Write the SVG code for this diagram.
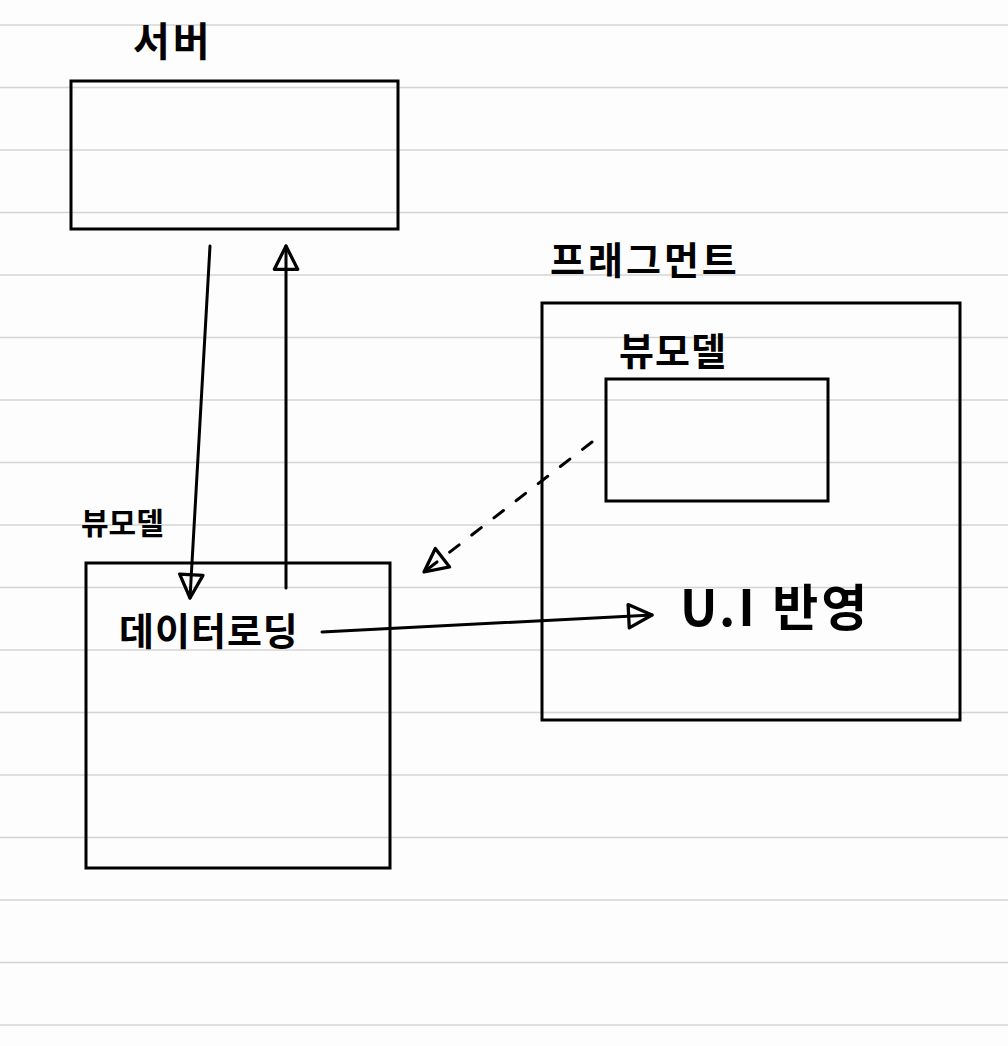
<svg xmlns="http://www.w3.org/2000/svg" width="1008" height="1046" viewBox="0 0 1008 1046">
<style>
.rule{stroke:#d4d4d4;stroke-width:1.5}
.box{fill:none;stroke:#000;stroke-width:3}
.conn{fill:none;stroke:#000;stroke-width:3;stroke-linecap:round}
.dash{stroke-dasharray:12 16}
.lbl{font-family:"Noto Sans CJK KR","Noto Sans",sans-serif;fill:#000;font-weight:bold}
</style>
<defs>
<marker id="triL" viewBox="0 0 12 12" refX="11" refY="6" markerWidth="28" markerHeight="28" markerUnits="userSpaceOnUse" orient="auto">
<path d="M1,1 L11,6 L1,11 Z" fill="none" stroke="#000" stroke-width="1.4" stroke-linejoin="round"/>
</marker>
</defs>
<rect width="1008" height="1046" fill="#fdfdfd"/>
<g id="ruled-lines">
<line class="rule" x1="0" y1="25" x2="1008" y2="25"/>
<line class="rule" x1="0" y1="87.5" x2="1008" y2="87.5"/>
<line class="rule" x1="0" y1="150" x2="1008" y2="150"/>
<line class="rule" x1="0" y1="212.5" x2="1008" y2="212.5"/>
<line class="rule" x1="0" y1="275" x2="1008" y2="275"/>
<line class="rule" x1="0" y1="337.5" x2="1008" y2="337.5"/>
<line class="rule" x1="0" y1="400" x2="1008" y2="400"/>
<line class="rule" x1="0" y1="462.5" x2="1008" y2="462.5"/>
<line class="rule" x1="0" y1="525" x2="1008" y2="525"/>
<line class="rule" x1="0" y1="587.5" x2="1008" y2="587.5"/>
<line class="rule" x1="0" y1="650" x2="1008" y2="650"/>
<line class="rule" x1="0" y1="712.5" x2="1008" y2="712.5"/>
<line class="rule" x1="0" y1="775" x2="1008" y2="775"/>
<line class="rule" x1="0" y1="837.5" x2="1008" y2="837.5"/>
<line class="rule" x1="0" y1="900" x2="1008" y2="900"/>
<line class="rule" x1="0" y1="962.5" x2="1008" y2="962.5"/>
<line class="rule" x1="0" y1="1025" x2="1008" y2="1025"/>
</g>
<g id="server">
<rect class="box" x="71" y="81" width="327" height="148"/>
<text class="lbl" x="133" y="56" font-size="40" letter-spacing="3">서버</text>
</g>
<g id="fragment">
<rect class="box" x="542" y="303" width="418" height="417"/>
<text class="lbl" x="550" y="274" font-size="38" letter-spacing="3">프래그먼트</text>
<text class="lbl" x="680" y="626" font-size="50" letter-spacing="3">U.I 반영</text>
</g>
<g id="fragment-viewmodel">
<rect class="box" x="606" y="379" width="222" height="122"/>
<text class="lbl" x="619" y="365" font-size="38" letter-spacing="1">뷰모델</text>
</g>
<g id="viewmodel">
<rect class="box" x="86" y="563" width="304" height="305"/>
<text class="lbl" x="81" y="534" font-size="30">뷰모델</text>
<text class="lbl" x="119" y="645" font-size="38" letter-spacing="1">데이터로딩</text>
</g>
<g id="connectors">
<line class="conn" x1="210" y1="246" x2="190" y2="598" marker-end="url(#triL)"/>
<line class="conn" x1="286" y1="588" x2="286" y2="246" marker-end="url(#triL)"/>
<line class="conn dash" x1="592" y1="442" x2="424" y2="572" marker-end="url(#triL)"/>
<line class="conn" x1="322" y1="632" x2="652" y2="615" marker-end="url(#triL)"/>
</g>
</svg>
